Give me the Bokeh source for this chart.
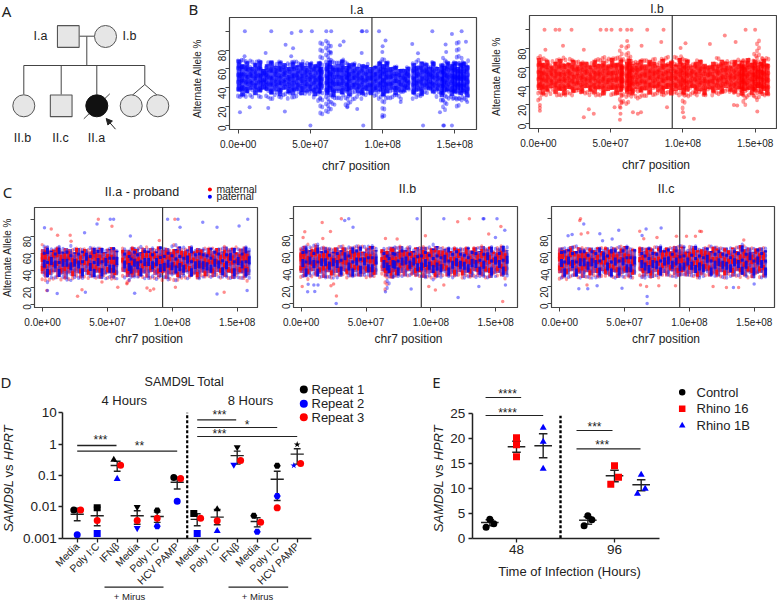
from math import pi
import numpy as np
from bokeh.plotting import figure
from bokeh.layouts import column, row
from bokeh.embed import file_html
from bokeh.resources import INLINE
from bokeh.core.properties import value
from bokeh.models import (Range1d, FixedTicker, Arrow, NormalHead, CustomJSTickFormatter)

FONT = "Liberation Sans"

ia_pos = [0.5,3,6,9,12,15,17.5,20,23,26,29,32,35,38,41,44,47,50,53,56,57.5,61.5,63.5,66,69,72,75,77,80,83,86,89,92,95,98,100.5,103,106,109,112,115,117.5,121.5,124,127,130,132.5,135,138,141,142.5,145,148,150,152,154,156,158.5]
ia_lo  = [30,29,30,30,31,30,38,30,28,29,29,30,28,27,30,32,30,33,28,26,10,14,15,22,26,28,20,20,27,28,27,32,32,30,26,10,26,28,30,27,35,38,28,27,30,33,38,34,30,25,16,22,28,28,20,25,28,25]
ia_hi  = [70,70,70,69,68,70,60,68,69,67,68,67,66,68,68,69,69,67,65,70,88,90,85,70,68,70,68,66,67,67,65,66,62,64,68,72,68,63,63,60,60,62,66,70,68,66,62,68,62,65,72,68,66,70,90,72,68,70]

ib_pos = [0.5,3,6,9,12,15,18,21,24,27,30,33,36,39,42,45,48,51,54,57,58,61.5,63,65,68,71,74,77,80,83,86,89,92,95,98,100.5,103,106,109,112,115,118,121,124,127,130,133,136,139,141,142.5,145,148,150,152,154,156,158.5]
ib_lo  = [24,28,30,30,30,30,30,32,30,32,32,30,30,30,30,30,33,30,30,18,20,20,30,28,26,28,28,30,30,30,30,32,30,32,28,16,28,30,30,30,30,35,30,30,32,32,33,30,30,30,20,28,30,28,25,30,30,30]
ib_hi  = [74,70,68,68,68,70,72,70,68,68,66,67,66,68,70,72,72,70,72,78,70,85,72,68,66,68,70,68,70,68,70,72,70,72,72,70,68,66,68,68,64,62,66,70,68,68,66,68,70,68,68,70,68,76,90,70,70,70]

c1_pos = [0.5,3,6,9,12,15,18,21,24,27,30,33,36,39,42,45,48,51,54,56.5,62.5,66,67.5,70,72.5,75,78,81,84,87,90,93,96,99,102,105,108,111,114,117,120,123,126,129,132,135,138,141,144,147,150,153,156,158.5]
c1_lo  = [28,25,28,28,28,28,28,28,30,30,30,30,30,30,30,30,30,30,28,30,30,24,25,32,32,32,30,30,30,28,30,28,28,28,26,28,28,30,30,32,30,32,32,30,32,32,30,32,30,30,30,30,28,26]
c1_hi  = [70,68,68,66,68,68,66,70,68,66,65,65,68,66,68,66,66,66,67,66,66,64,66,68,66,68,66,68,67,66,68,66,66,70,70,68,68,66,68,65,66,66,66,66,66,66,66,68,68,66,68,66,68,68]

c2_pos = [0.5,3,6,9,12,15,18,21,24,27,30,33,36,39,42,45,48,51,54,57,63,65.5,67,70,71.5,74,77,80,83,86,89,92,95,98,101,104,107,110,113,116,119,122,125,128,131,134,137,140,143,146,149,152,155,158]
c2_lo  = [30,30,28,30,32,30,30,30,30,30,32,32,30,30,32,32,30,30,30,32,32,15,20,30,28,32,32,32,32,32,32,32,30,30,28,30,30,32,32,30,32,32,30,30,30,30,32,32,30,30,32,32,32,28]
c2_hi  = [68,68,70,70,70,68,68,66,66,66,68,68,68,66,70,68,70,68,70,68,66,62,66,68,68,66,68,68,68,66,66,66,68,68,70,68,66,66,66,66,66,66,66,66,64,66,66,68,68,68,68,66,68,70]

c3_pos = [0.5,3,6,9,12,15,18,21,24,27,30,33,36,39,42,45,48,51,54,57,62.5,65,68,71,74,77,80,83,86,89,92,95,98,101,104,107,110,113,116,119,122,125,128,131,134,137,140,143,146,149,152,155,158]
c3_lo  = [28,28,28,30,30,30,30,30,30,30,30,30,32,32,30,30,30,30,30,30,30,30,32,30,30,30,32,32,32,30,32,34,32,32,30,30,32,32,32,32,32,30,30,32,32,30,30,32,30,30,32,30,30]
c3_hi  = [66,66,68,68,68,66,66,66,66,66,66,66,66,66,66,68,68,68,66,66,66,66,66,66,68,68,66,66,66,68,70,68,66,68,68,66,66,66,68,68,68,66,66,66,66,68,70,68,66,66,66,66,66]

# ---------- single outlying points (Mb, %)
ia_out_x = [4.6,22.9,43.4,51,61,64.4,85.5,86,89,97.5,134.4,154.7,37,32.8,38,36.7,19,4.4,73,70.5,64,85.5,99.8,100,102,120.5,124.5,144,143.6,148,157.7,1.2,7.9,20.8,32.3,50,86.6,128,142,142.5,148,99.8,139.7,75.5,82.4,112.5,158.6]
ia_out_y = [100,100,100,100,100,100,100,100,100,100,100,100,98,85.5,82,73.5,77,73.5,89,85,78,77,78,84,90,86.5,76.7,78,86,97,88.7,14,19.4,18.7,15,0,0,0,0,0,0,9,14,19.4,17.6,25,25]
ib_out_x = [4.2,11.8,14.5,22.9,43,47,50.6,56.8,61.4,64.4,75.3,86.6,143.4,150,129,136.5,85,61.4,71.4,57.5,17,98.4,101.8,118.7,4.8,31.4,34.9,31.4,38.3,56.4,56.8,56.8,1,1,1,52.7,89,68.8,71,65.4,100,100.7,107.6,151.5,137.6,135.3]
ib_out_y = [100,100,100,100,100,100,100,100,100,100,100,100,100,100,94,87,87,88,83,82.6,83,80.5,85.8,85,78.7,78.7,15.6,7,10.6,4.3,10.6,17,20,17,14,17.7,17.7,10.6,12.4,12.4,12.4,7,5.3,13,19.5,20]

c1_red_x = [43,102,53.5,6.7,11.6,21.3,27,3.3,30.4,65,80.5,83,85.7,140,102.4,45.8,22,58,90]
c1_red_y = [100,100,91.8,88.6,81,81,9.4,16,17,24,19,16,18,14,20,26,74,20,75]
c1_blue_x = [52.2,54.8,96.4,104.4,158.2,42,1.5,106,123.5,134.5,151.5,32.4,67.7,11.3,33,71,134.5,157.7,3.8]
c1_blue_y = [100,100,100,100,100,94.5,90,90.6,96.5,90.6,92,84,80.4,12.5,14,13,12,16,16]
c2_red_x = [31,16.2,2.8,22.6,1.5,16.7,27.2,0.8,23,25,95.8,120.7,129.7,154,144.6,155.4,103.5,98.4,110,65,74]
c2_red_y = [100,95.7,84.6,85,78,76.8,9,20,21,23,80,96.5,100,91,82,2.4,16,20,22,76.8,76]
c2_blue_x = [36.7,33.6,40,89.4,110,140.3,140.9,151,157,149.8,27,5,10.5,65,84.8,121,137,157.5,5.4,9.8,13]
c2_blue_y = [100,98,90,100,100,100,100,100,86.6,78,0,13.8,14.2,14,17,7,20,22,22.8,22,22]
c3_red_x = [16,15.4,16.5,21.6,61.7,64.8,75,90,97.8,108,109.3,104.7,142,67,62.3,76.4,89.3,21,128.6,118.3,138]
c3_red_y = [100,98,82,83.5,85.4,76.4,78,79.5,79.5,85.4,85,79.5,75,20,22,21,21,22,19,20,19]
c3_blue_x = [18.5,6.4,9.5,30.9,45.5,66.6,78.2,33,40.4,63.5,67.4,67.4,14.7,21.6,48,134,28.8,150]
c3_blue_y = [93.7,80,81.5,82.3,86.6,88,89,74,76,80.3,0,8.3,17.3,17.3,18,19,21,23]

CENTROMERE = 92.6e6

# ---------- panel D
d_labels = ["Media","Poly I:C","IFN\u03b2","Media","Poly I:C","HCV PAMP"]*2
d_rep1 = [.0080,.0093,.316,.0098,.0076,.086,.0061,.0084,.80,.0052,.204,.975]
d_rep2 = [.0013,.0014,.078,.0021,.0024,.015,.0014,.0017,.22,.0016,.022,.208]
d_rep3 = [.0080,.0037,.214,.0037,.0043,.080,.0043,.0036,.30,.0032,.0093,.24]
d_mean = [.0058,.0052,.208,.0052,.0049,.061,.0040,.0047,.43,.0034,.076,.48]
d_low  = [.0036,.0025,.137,.0028,.0032,.037,.0025,.0027,.23,.0023,.016,.23]
d_high = [.0091,.0098,.286,.0075,.0068,.088,.0060,.0082,.60,.0045,.137,.71]
d_off1 = [-.17,0,-.17,0,0,-.17,-.17,0,0,-.17,0,0]
d_off2 = [0,0,0,0,0,0,0,0,-.17,0,0,-.17]
d_off3 = [.17,0,.17,0,0,.17,.17,0,.17,.17,0,.17]
d_mark = ["circle","square","triangle","inverted_triangle","hex","circle",
          "square","triangle","inverted_triangle","hex","hex","star"]

# ---------- panel E
e_groups = ["48","96"]
e_ctrl_48 = [2.2,3.8,2.9];   e_r16_48 = [20.07,18.7,16.3]; e_r1b_48 = [22.1,19.3,13.9]
e_ctrl_96 = [2.5,4.5,3.7];   e_r16_96 = [10.8,14.5,12.2];  e_r1b_96 = [8.9,12.7,9.9]
e_mean = [3.13,18.3,18.5,3.6,12.5,10.7]
e_low  = [2.5,17.2,16.1,2.8,11.3,9.5]
e_high = [3.7,19.4,20.9,4.3,13.6,11.7]

# hand-picked dash phases and edge wobble: texture only, so the dense band is not a flat block
PHASE_A = [3,11,1,6,13,2,9,4,0,12,5,8,1,10,3,7,14,2,6,0,11,4,9]
PHASE_B = [7,1,12,4,0,9,14,3,11,6,2,13,5,0,8,3,10,1,6,12,4]
WOBBLE  = [2,-3,0,4,-2,1,-4,3,-1,2,-3,4,0,-2,3,-4,1]

def cyc(seq, n):
    return np.array([seq[i % len(seq)] for i in range(n)], float)

def pt(p, x, y, s, size="12.5px", align="center", style="normal", angle=0, font=FONT, color="#222222"):
    p.text([x],[y],text=[s],text_font=value(font),text_font_size=size,text_align=align,angle=angle,
           text_baseline="middle",text_color=color,text_font_style=style)

def rpanel(w, h, left, right, top, bottom, xr, yr, ylabel=True, xlab_gap=36, ylab_gap=32.3, ylab_down=0):
    """Figure filling its whole cell; the plot box is drawn at the data limits xr, yr."""
    fw, fh = w-left-right, h-top-bottom
    sx, sy = (xr[1]-xr[0])/fw, (yr[1]-yr[0])/fh
    p = figure(width=w, height=h, x_range=Range1d(xr[0]-left*sx, xr[1]+right*sx),
               y_range=Range1d(yr[0]-bottom*sy, yr[1]+top*sy),
               toolbar_location=None, output_backend="svg", min_border=0)
    p.grid.visible = False; p.outline_line_color = None
    p.background_fill_color = None; p.border_fill_color = None
    xa, ya = p.xaxis[0], p.yaxis[0]
    xa.fixed_location = yr[0]; ya.fixed_location = xr[0]
    xa.bounds = xr; ya.bounds = yr
    xa.ticker = FixedTicker(ticks=[0, 5e7, 1e8, 1.5e8])
    xa.major_label_overrides = {0: "0.0e+00", 50000000: "5.0e+07", 100000000: "1.0e+08", 150000000: "1.5e+08"}
    ya.ticker = FixedTicker(ticks=[0, 20, 40, 60, 80, 100])
    ya.major_label_overrides = {100: ""}
    ya.major_label_orientation = pi/2
    for ax in (xa, ya):
        ax.axis_line_color = "#444444"
        ax.major_tick_line_color = "#444444"
        ax.major_tick_out = 4; ax.major_tick_in = 0
        ax.minor_tick_line_color = None
        ax.major_label_text_font = FONT
        ax.major_label_text_font_size = "10px"
        ax.major_label_text_color = "#222222"
    xa.major_label_standoff = 6
    ya.major_label_standoff = 3
    pt(p, (xr[0]+xr[1])/2+3*sx, yr[0]-xlab_gap*sy, "chr7 position", "12px")
    if ylabel:
        pt(p, xr[0]-ylab_gap*sx, (yr[0]+yr[1])/2-ylab_down*sy, "Alternate Allele %", "10px", angle=pi/2)
    p.quad(left=[xr[0]], right=[xr[1]], bottom=[yr[0]], top=[yr[1]], fill_color=None,
           line_color="#444444", line_width=1.2)
    p.segment([CENTROMERE],[yr[0]],[CENTROMERE],[yr[1]],line_color="#111111",line_width=1)
    return p

DOTS = dict(line_dash="1 6", line_cap="round")

def mono_band(p, pos, lo, hi, color, out_x, out_y, core=(34, 66)):
    x = np.array(pos)*1e6; lo = np.array(lo, float); hi = np.array(hi, float)
    n = len(x); wob = cyc(WOBBLE, n); ph = cyc(PHASE_A, n); ph2 = cyc(PHASE_B, n)
    # dotted columns read as the sparser points around and beyond the dense core
    p.segment(x-.7e6, lo+ph*.25, x-.7e6, hi, line_color=color, line_alpha=.4, line_width=3.8, **DOTS)
    p.segment(x+.7e6, hi-ph2*.25, x+.7e6, lo, line_color=color, line_alpha=.4, line_width=3.8, **DOTS)
    cl = np.minimum(np.maximum(lo, core[0]+wob), hi)
    ch = np.maximum(np.minimum(hi, core[1]-wob[::-1]), lo)
    p.segment(x, cl, x, ch, line_color=color, line_alpha=.72, line_width=4.6)
    p.segment(x, cl+ph*.5, x, ch, line_color=color, line_alpha=.5, line_width=3, line_dash="6 3 9 4")
    p.scatter(np.array(out_x)*1e6, out_y, size=4, color=color, alpha=.45, line_color=None)

def duo_band(p, pos, lo, hi, rx, ry, bx, by, core=(34, 65)):
    x = np.array(pos)*1e6; lo = np.array(lo, float); hi = np.array(hi, float)
    n = len(x); wob = cyc(WOBBLE, n); pa_, pb_ = cyc(PHASE_A, n), cyc(PHASE_B, n)
    cl = np.minimum(np.maximum(lo, core[0]+wob), hi)
    ch = np.maximum(np.minimum(hi, core[1]-wob[::-1]), lo)
    p.segment(x-.8e6, lo+pa_*.25, x-.8e6, hi, line_color="#ff0000", line_alpha=.4, line_width=3.2, **DOTS)
    p.segment(x+.8e6, hi-pb_*.25, x+.8e6, lo, line_color="#0000ff", line_alpha=.4, line_width=3.2, **DOTS)
    # base of the dense band
    p.segment(x+.8e6, cl, x+.8e6, ch, line_color="#3a20c0", line_alpha=.72, line_width=2.4)
    p.segment(x-.8e6, cl, x-.8e6, ch, line_color="#c01060", line_alpha=.72, line_width=2.4)
    # overlaid irregular dashes whose start differs per bin give the red and blue blotches
    p.segment(x-.8e6, cl+pa_, x-.8e6, ch, line_color="#ff0808", line_alpha=.85, line_width=3, line_dash="5 4 9 6 3 7")
    p.segment(x+.8e6, cl+pb_, x+.8e6, ch, line_color="#0808e8", line_alpha=.85, line_width=3, line_dash="8 5 3 7 6 4")
    p.scatter(np.array(rx)*1e6, ry, size=3.5, color="#ff0000", alpha=.45, line_color=None)
    p.scatter(np.array(bx)*1e6, by, size=3.5, color="#0000ff", alpha=.45, line_color=None)

# ---------- A : pedigree (diagram in pixel-like units)
pa = figure(width=180, height=172, x_range=Range1d(0, 180), y_range=Range1d(172, 0),
            toolbar_location=None, output_backend="svg", min_border=0)
pa.axis.visible = False; pa.grid.visible = False; pa.outline_line_color = None
ped_x0 = [79,86.3,23.3,23.3,60.7,96.3,144.3,144.3,144.3,83.3]
ped_y0 = [35.7,36,65,65,65,65,65,84,84,118.3]
ped_x1 = [94,86.3,144.3,23.3,60.7,96.3,144.3,131.5,157,109.3]
ped_y1 = [35.7,65,65,94,94,94,84,95,95,93.3]
pa.segment(ped_x0, ped_y0, ped_x1, ped_y1, line_color="#444444", line_width=1)
pa.rect([67.8,60.7],[36,105.3],width=21.7,height=21.7,fill_color="#e6e6e6",line_color="#555555",line_width=1.1)
pa.circle([105,23.3,130.7,157.3],[36,105.3,105.3,105.3],radius=11,fill_color="#e6e6e6",line_color="#555555",line_width=1)
pa.circle([96.3],[105.3],radius=11,fill_color="#111111",line_color="#111111")
pa.add_layout(Arrow(end=NormalHead(size=6, fill_color="#222222", line_color="#222222"),
                    x_start=115, y_start=128.7, x_end=105.7, y_end=118, line_color="#222222", line_width=1))
for x, y, s in [(40,35,"I.a"),(129,35,"I.b"),(22,137,"II.b"),(60,137,"II.c"),(96,137,"II.a")]:
    pt(pa, x, y, s, "12.5px")
pt(pa, 6, 10, "A", "15px", font="Noto Sans")

# ---------- B
pb1 = rpanel(298, 172, 49, 2, 17, 43, (-6.03e6, 165e6), (-4.2, 114.5), ylab_down=5)
mono_band(pb1, ia_pos, ia_lo, ia_hi, "#0000ff", ia_out_x, ia_out_y)
pt(pb1, 82e6, 122, "I.a", "12px")
pt(pb1, -31e6, 123, "B", "15px", font="Noto Sans")

pb2 = rpanel(299, 172, 51, 1, 15, 44, (-6.2e6, 164.8e6), (-5, 115.2), ylab_gap=33, ylab_down=4.5)
mono_band(pb2, ib_pos, ib_lo, ib_hi, "#ff0000", ib_out_x, ib_out_y)
pt(pb2, 82e6, 122.5, "I.b", "12px")

# ---------- C
pc1 = rpanel(262, 173, 34, 5, 35, 38, (-6.2e6, 165.7e6), (-3.9, 113.8), xlab_gap=31, ylab_gap=26.7)
duo_band(pc1, c1_pos, c1_lo, c1_hi, c1_red_x, c1_red_y, c1_blue_x, c1_blue_y)
pt(pc1, 76.7e6, 132, "II.a - proband", "12.5px")
pt(pc1, -27e6, 132, "C", "15px", font="Noto Sans")
pt(pc1, 134e6, 135.5, "maternal", "10.4px", align="left")
pt(pc1, 134e6, 126.5, "paternal", "10.4px", align="left")
pc1.scatter([129e6],[135],size=4,color="#ff0000",line_color=None)
pc1.scatter([129e6],[126.5],size=4,color="#0000ff",line_color=None)

pc2 = rpanel(268, 173, 31, 13, 34, 38, (-5.9e6, 166.8e6), (-4.7, 114.5), ylabel=False, xlab_gap=31)
duo_band(pc2, c2_pos, c2_lo, c2_hi, c2_red_x, c2_red_y, c2_blue_x, c2_blue_y)
pt(pc2, 82e6, 135, "II.b", "12.5px")

pc3 = rpanel(247, 173, 21, 3, 34, 38, (-6.4e6, 165.7e6), (-4.7, 114.5), ylabel=False, xlab_gap=31)
duo_band(pc3, c3_pos, c3_lo, c3_hi, c3_red_x, c3_red_y, c3_blue_x, c3_blue_y)
pt(pc3, 82e6, 135, "II.c", "12.5px")

def sig(p, x0, x1, y, tx, ty, s, w=1.2):
    p.segment([x0],[y],[x1],[y],line_color="#222222",line_width=w)
    p.text([tx],[ty],text=[s],text_font=value(FONT),text_font_size="12px",text_align="center",
           text_baseline="middle",text_color="#222222")

# ---------- D
dx = lambda px: (px-76.7)/20
dy = lambda py: 10**(-3+(537.7-py)/31.35)
pd_ = figure(width=420, height=257, x_range=Range1d(dx(0), dx(420)), y_range=Range1d(dy(602), dy(345)),
             y_axis_type="log", toolbar_location=None, output_backend="svg", min_border=0)
pd_.grid.visible = False; pd_.outline_line_color = None
pd_.background_fill_color = None; pd_.border_fill_color = None
yax = pd_.yaxis[0]; xax = pd_.xaxis[0]
yax.fixed_location = dx(62.3); xax.fixed_location = 0.001
yax.ticker = FixedTicker(ticks=[0.001,0.01,0.1,1,10])
yax.formatter = CustomJSTickFormatter(code="return String(tick)")
yax.bounds = (0.001,10)
xax.bounds = (dx(62.3), dx(311))
xax.ticker = FixedTicker(ticks=list(range(12)))
xax.major_label_overrides = {i: s for i, s in enumerate(d_labels)}
xax.major_label_orientation = pi/4
xax.major_label_text_font_size = "10.5px"
yax.major_label_text_font_size = "13.5px"
for ax in (xax, yax):
    ax.axis_line_color = "#222222"; ax.axis_line_width = 1.5
    ax.major_tick_line_color = "#222222"; ax.major_tick_line_width = 1.3
    ax.major_tick_out = 4; ax.major_tick_in = 0; ax.minor_tick_line_color = None
    ax.major_label_text_font = FONT; ax.major_label_text_color = "#222222"
    ax.major_label_standoff = 2
idx = np.arange(12)
pd_.segment(idx-.33, d_mean, idx+.33, d_mean, line_color="#222222", line_width=1.4)
pd_.segment(idx, d_low, idx, d_high, line_color="#222222", line_width=1.4)
pd_.segment(idx-.17, d_low, idx+.17, d_low, line_color="#222222", line_width=1.4)
pd_.segment(idx-.17, d_high, idx+.17, d_high, line_color="#222222", line_width=1.4)
for vals, off, col in ((d_rep1, d_off1, "#000000"), (d_rep2, d_off2, "#0000ff"), (d_rep3, d_off3, "#ff0000")):
    for i in range(12):
        pd_.scatter([i+off[i]], [vals[i]], marker=d_mark[i] if col != "#ff0000" else "circle",
                    size=7, color=col, line_color=None)
pd_.segment([5.5],[0.001],[5.5],[10],line_color="#000000",line_width=2.2,line_dash="3 2")
sig(pd_, 0, dx(116), dy(445), dx(100), dy(439), "***", 1.6)
sig(pd_, 0, dx(176.7), dy(450.7), dx(139), dy(445), "**")
sig(pd_, 6, dx(235.7), dy(419.3), dx(219), dy(414), "***")
sig(pd_, 6, 10, dy(427), dx(246.7), dy(424), "*")
sig(pd_, 6, 11, dy(436), dx(219), dy(433), "***")
pd_.segment([dx(104), dx(228)],[dy(586.7)]*2,[dx(163), dx(287.7)],[dy(586.7)]*2,line_color="#222222",line_width=1.2)
pt(pd_, dx(129), dy(596), "+ Mirus", "9.5px")
pt(pd_, dx(257), dy(596), "+ Mirus", "9.5px")
pt(pd_, dx(184), dy(381), "SAMD9L Total", "12.5px")
pt(pd_, dx(123.7), dy(400), "4 Hours", "13px")
pt(pd_, dx(250), dy(400), "8 Hours", "13px")
pt(pd_, dx(5.5), dy(381), "D", "15px", font="Noto Sans")
for py, col, s in ((389, "#000000", "Repeat 1"), (403.3, "#0000ff", "Repeat 2"), (416.7, "#ff0000", "Repeat 3")):
    pd_.scatter([dx(303.3)], [dy(py)], size=8, color=col, line_color=None)
    pt(pd_, dx(311), dy(py), s, "13px", align="left")
pt(pd_, dx(8), dy(531.5), "SAMD9L", "13px", align="left", style="italic", angle=pi/2)
pt(pd_, dx(8), dy(477), "vs", "13px", align="left", angle=pi/2)
pt(pd_, dx(8), dy(460), "HPRT", "13px", align="left", style="italic", angle=pi/2)

# ---------- E
ex = lambda px: (px-489.33)/26.67
ey = lambda py: (537.7-py)/5
pe = figure(width=357, height=257, x_range=Range1d(ex(420), ex(777)), y_range=Range1d(ey(602), ey(345)),
            toolbar_location=None, output_backend="svg", min_border=0)
pe.grid.visible = False; pe.outline_line_color = None
pe.background_fill_color = None; pe.border_fill_color = None
eyax = pe.yaxis[0]; exax = pe.xaxis[0]
eyax.fixed_location = ex(471.7); exax.fixed_location = 0
eyax.ticker = FixedTicker(ticks=[0,5,10,15,20,25]); eyax.bounds = (0,25)
group_pos = [1, 4.675]
exax.ticker = FixedTicker(ticks=group_pos); exax.bounds = (ex(471.7), ex(659))
exax.major_label_overrides = {1: e_groups[0], 4.675: e_groups[1]}
for ax in (exax, eyax):
    ax.axis_line_color = "#222222"; ax.axis_line_width = 1.5
    ax.major_tick_line_color = "#222222"; ax.major_tick_line_width = 1.3
    ax.major_tick_out = 4; ax.major_tick_in = 0; ax.minor_tick_line_color = None
    ax.major_label_text_font = FONT; ax.major_label_text_font_size = "13.5px"
    ax.major_label_text_color = "#222222"; ax.major_label_standoff = 3
e_x = np.array([0, 1, 2, 3.675, 4.675, 5.675])
pe.segment(e_x-.33, e_mean, e_x+.33, e_mean, line_color="#222222", line_width=1.4)
pe.segment(e_x, e_low, e_x, e_high, line_color="#222222", line_width=1.4)
pe.segment(e_x-.16, e_low, e_x+.16, e_low, line_color="#222222", line_width=1.4)
pe.segment(e_x-.16, e_high, e_x+.16, e_high, line_color="#222222", line_width=1.4)
jit = np.array([-.14, 0, .15])
for base, vals, mk, col, off in ((0, e_ctrl_48, "circle", "#000000", jit), (1, e_r16_48, "square", "#ff0000", 0*jit),
                                 (2, e_r1b_48, "triangle", "#0000ff", 0*jit), (3.675, e_ctrl_96, "circle", "#000000", jit),
                                 (4.675, e_r16_96, "square", "#ff0000", jit), (5.675, e_r1b_96, "triangle", "#0000ff", jit)):
    pe.scatter(base+off, vals, marker=mk, size=7, color=col, line_color=None)
pe.segment([2.65],[0],[2.65],[24.5],line_color="#000000",line_width=2.4,line_dash="3 2")
sig(pe, -.16, 1.175, ey(397), ex(507), ey(393), "****")
sig(pe, -.16, 2, ey(415), ex(507), ey(412), "****")
sig(pe, 3.25, 4.6, ey(430), ex(594), ey(426), "***")
sig(pe, 3.25, 5.65, ey(448.3), ex(601.7), ey(444), "***")
for py, mk, col, s in ((391.7, "circle", "#000000", "Control"), (408.3, "square", "#ff0000", "Rhino 16"), (425, "triangle", "#0000ff", "Rhino 1B")):
    pe.scatter([ex(681.7)], [ey(py)], marker=mk, size=6.5, color=col, line_color=None)
    pt(pe, ex(696), ey(py), s, "13px", align="left")
pt(pe, ex(569), ey(570.7), "Time of Infection (Hours)", "13px")
pt(pe, ex(436), ey(381), "E", "15px", font="Noto Sans")
pt(pe, ex(438), ey(531.7), "SAMD9L", "13px", align="left", style="italic", angle=pi/2)
pt(pe, ex(438), ey(477), "vs", "13px", align="left", angle=pi/2)
pt(pe, ex(438), ey(460), "HPRT", "13px", align="left", style="italic", angle=pi/2)

root = column(row(pa, pb1, pb2, spacing=0),
              row(pc1, pc2, pc3, spacing=0),
              row(pd_, pe, spacing=0),
              spacing=0, margin=(0, 0, 0, 0))
open("out.html", "w").write(file_html(root, INLINE))
